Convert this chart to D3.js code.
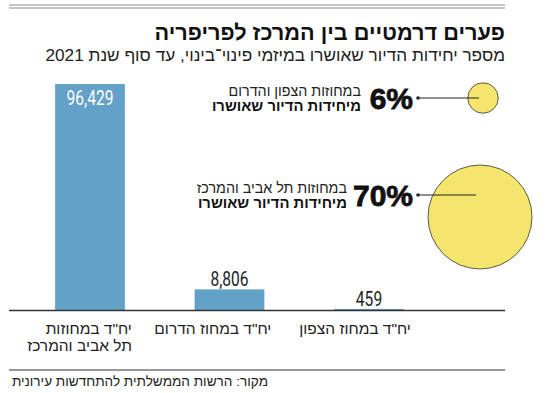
<!DOCTYPE html>
<html>
<head>
<meta charset="utf-8">
<script src="https://cdn.jsdelivr.net/npm/d3@7"></script>
<style>
  body { margin: 0; background: #fff; }
  svg { display: block; }
  text { font-family: "Liberation Sans", "DejaVu Sans", sans-serif; }
  .num { font-family: Roboto, "Liberation Sans", sans-serif; }
</style>
</head>
<body>
<script>
// data
var categories = ['יח"ד במחוזות|תל אביב והמרכז', 'יח"ד במחוז הדרום', 'יח"ד במחוז הצפון'];
var units = [96429, 8806, 459];
var shareLabels = ['במחוזות הצפון והדרום', 'במחוזות תל אביב והמרכז'];
var shareValues = [6, 70];
var title = 'פערים דרמטיים בין המרכז לפריפריה';
var subtitle = 'מספר יחידות הדיור שאושרו במיזמי פינוי\u05BEבינוי, עד סוף שנת 2021';
var source = 'מקור: הרשות הממשלתית להתחדשות עירונית';

var width = 550, height = 393;
var barColor = '#63a1c8', circleColor = '#f4e66c';

var svg = d3.select('body').append('svg')
    .attr('width', width).attr('height', height);

// header rules
[5, 8].forEach(function (y) {
    svg.append('line').attr('x1', 9).attr('x2', 505).attr('y1', y).attr('y2', y)
        .attr('stroke', '#8a8a8a').attr('stroke-width', 1);
});

svg.append('text').attr('x', 505).attr('y', 40)
    .attr('text-anchor', 'end').attr('font-size', 21.7).attr('font-weight', 'bold')
    .attr('fill', '#111').text(title);

svg.append('text').attr('x', 505).attr('y', 61)
    .attr('text-anchor', 'end').attr('font-size', 17.2)
    .attr('fill', '#222').text(subtitle);

// bars
var x = d3.scaleBand().domain(categories).range([20.25, 438.75])
    .paddingInner(0.5).paddingOuter(0.25);
var y = d3.scaleLinear().domain([0, d3.max(units)]).range([310, 84]);

svg.selectAll('rect.bar').data(units).enter().append('rect')
    .attr('class', 'bar')
    .attr('x', function (d, i) { return x(categories[i]); })
    .attr('width', x.bandwidth())
    .attr('y', function (d) { return y(d); })
    .attr('height', function (d) { return y(0) - y(d); })
    .attr('fill', barColor);

// value labels, squeezed to look condensed
svg.selectAll('text.val').data(units).enter().append('text')
    .attr('class', 'val num')
    .attr('transform', function (d, i) {
        var cx = x(categories[i]) + x.bandwidth() / 2;
        var ty = i == 0 ? y(d) + 21 : y(d) - 3;
        return 'translate(' + cx + ',' + ty + ') scale(0.8,1)';
    })
    .attr('text-anchor', 'middle').attr('font-size', 19.5)
    .attr('fill', function (d, i) { return i == 0 ? '#fff' : '#222'; })
    .text(d3.format(','));

svg.append('line').attr('x1', 9).attr('x2', 505).attr('y1', 310.5).attr('y2', 310.5)
    .attr('stroke', '#333').attr('stroke-width', 1.3);

// category labels
categories.forEach(function (c) {
    var t = svg.append('text')
        .attr('x', x(c) + x.bandwidth() + 7).attr('y', 334)
        .attr('text-anchor', 'end').attr('font-size', 15.5).attr('fill', '#222');
    c.split('|').forEach(function (line, j) {
        t.append('tspan').attr('x', x(c) + x.bandwidth() + 7).attr('dy', j ? 17 : 0).text(line);
    });
});

// circles
var r = d3.scaleSqrt().domain([0, 70]).range([0, 52]);
var circleCx = [483, 480], circleCy = [98, 217], lineY = [98, 195];

svg.selectAll('circle.share').data(shareValues).enter().append('circle')
    .attr('class', 'share')
    .attr('cx', function (d, i) { return circleCx[i]; })
    .attr('cy', function (d, i) { return circleCy[i]; })
    .attr('r', function (d) { return r(d); })
    .attr('fill', circleColor).attr('stroke', '#333').attr('stroke-width', 0.8);

shareValues.forEach(function (v, i) {
    svg.append('line').attr('x1', 418).attr('x2', circleCx[i] - 4)
        .attr('y1', lineY[i]).attr('y2', lineY[i])
        .attr('stroke', '#222').attr('stroke-width', 1);
    svg.append('circle').attr('cx', 418).attr('cy', lineY[i]).attr('r', 1.8).attr('fill', '#222');
    svg.append('text').attr('x', 413).attr('y', lineY[i] + 11)
        .attr('text-anchor', 'end').attr('font-size', 30).attr('font-weight', 'bold')
        .attr('font-family', 'DejaVu Sans').attr('fill', '#111')
        .attr('stroke', '#111').attr('stroke-width', 0.8)
        .text(v + '%');
    var tx = i == 0 ? 361 : 347;
    svg.append('text').attr('x', tx).attr('y', lineY[i] - 2)
        .attr('text-anchor', 'end').attr('font-size', 14.3).attr('fill', '#222')
        .text(shareLabels[i]);
    svg.append('text').attr('x', tx).attr('y', lineY[i] + 12.5)
        .attr('text-anchor', 'end').attr('font-size', 14.8).attr('font-weight', 'bold')
        .attr('fill', '#111').text('מיחידות הדיור שאושרו');
});

// footer
svg.append('line').attr('x1', 9).attr('x2', 505).attr('y1', 370).attr('y2', 370)
    .attr('stroke', '#333').attr('stroke-width', 1);
svg.append('text').attr('x', 268).attr('y', 386)
    .attr('text-anchor', 'end').attr('font-size', 13.6).attr('fill', '#222')
    .text(source);
</script>
</body>
</html>
